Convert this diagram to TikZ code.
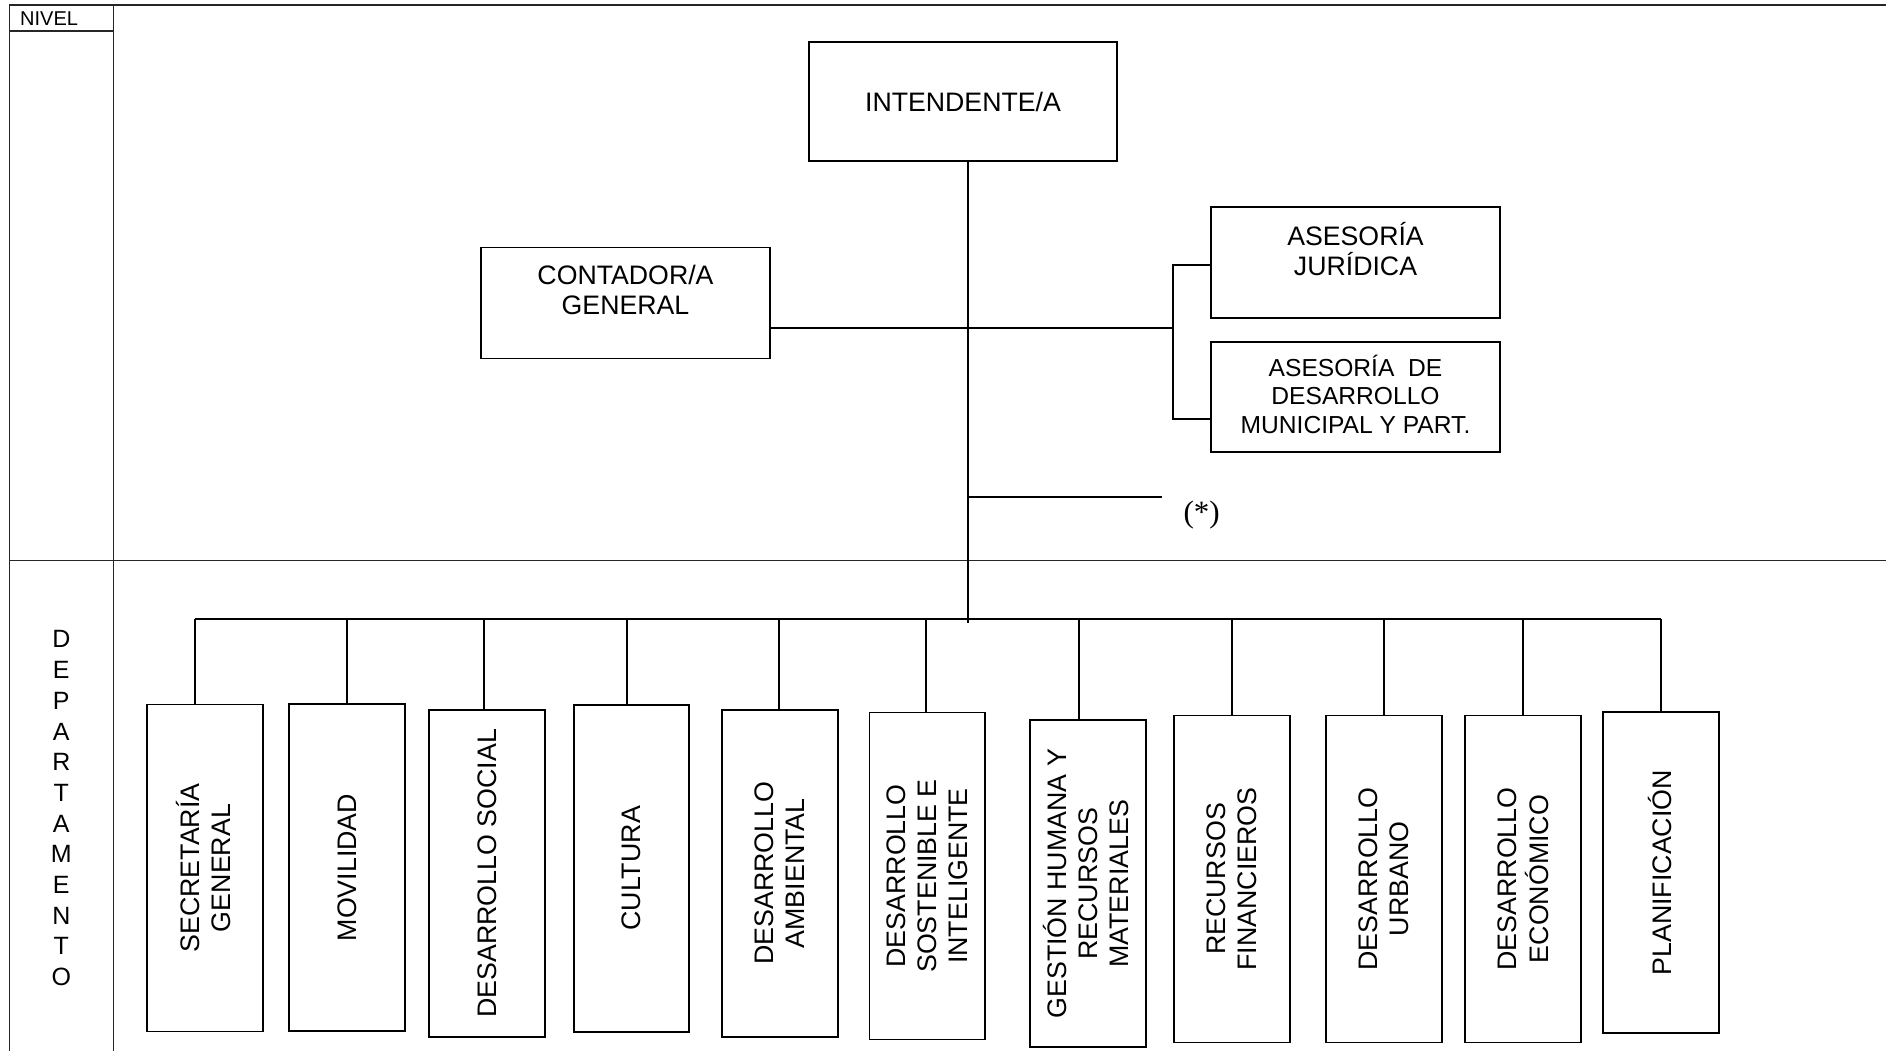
\documentclass[tikz,border=0pt]{standalone}
\usepackage{fontspec}
\setmainfont{Liberation Sans}
\newfontfamily\seriffont{Liberation Serif}
\usetikzlibrary{calc}
\newcommand{\vlab}[1]{\hspace*{6pt}\rotatebox{90}{\begin{tabular}{@{}c@{}}#1\end{tabular}}}
\begin{document}
\begin{tikzpicture}[x=1pt,y=-1pt,
  frameline/.style={line width=1.5pt, black!85},
  conn/.style={line width=1.9pt, black},
  box/.style={draw=black, line width=1.9pt, inner sep=0pt, text=black},
  topbox/.style={box, minimum width=289pt, minimum height=111pt},
  boxtext/.style={inner sep=0pt, align=center, font=\fontsize{26.7}{30}\selectfont},
  dept/.style={box, minimum width=115.7pt, minimum height=327pt, font=\fontsize{26.8}{30.8}\selectfont},
]
\useasboundingbox (0,0) rectangle (1886,1051);
\fill[white] (0,0) rectangle (1886,1051);

% frame
\draw[frameline] (9.3,1051) -- (9.3,5) -- (1886,5);
\draw[frameline] (113.3,5) -- (113.3,1051);
\draw[frameline] (9.3,31) -- (113.3,31);
\draw[frameline] (9.3,560.7) -- (1886,560.7);
\node[anchor=base west, inner sep=0pt, font=\fontsize{20}{24}\selectfont] (nivel) at (20,26) {NIVEL};
\node[inner sep=0pt, align=center, font=\fontsize{25}{30.7}\selectfont] (depto) at (61.3,808.3)
  {D\\E\\P\\A\\R\\T\\A\\M\\E\\N\\T\\O};

% top level
\node[box, minimum width=308pt, minimum height=119pt, font=\fontsize{26.7}{30}\selectfont] (int) at (963,101.5) {INTENDENTE/A};
\node[topbox] (cont) at (625.5,303) {};
\node[boxtext] (conttext) at ($(cont.center)+(0,-12.6)$) {CONTADOR/A\\GENERAL};
\node[box, minimum width=289pt, minimum height=110.5pt] (aj) at (1355.5,262.3) {};
\node[boxtext] (ajtext) at ($(aj.center)+(0,-13)$) {ASESORÍA\\JURÍDICA};
\node[box, minimum width=289pt, minimum height=110.3pt] (adm) at (1355.5,396.9) {};
\node[inner sep=0pt, align=center, font=\fontsize{24.6}{28.9}\selectfont] (admtext) at ($(adm.center)+(0,-2.5)$)
  {ASESORÍA~~DE\\DESARROLLO\\MUNICIPAL Y PART.};
\node[inner sep=0pt, font=\seriffont\fontsize{31}{36}\selectfont] (star) at (1201.7,515) {(*)};

% connectors top
\coordinate (trunk) at (968,622.7);
\coordinate (mid) at (968,327.7);
\coordinate (brk) at (1172.8,327.7);
\coordinate (brkT) at (1172.8,265);
\coordinate (brkB) at (1172.8,418.6);
\coordinate (starA) at (968,497);
\coordinate (starB) at (1162,497);
\draw[conn] (int.south -| trunk) -- (trunk);
\draw[conn] (cont.east |- mid) -- (brk);
\draw[conn] (aj.west |- brkT) -- (brkT) -- (brkB) -- (adm.west |- brkB);
\draw[conn] (starA) -- (starB);

% departments
\node[dept] (d1) at (205,868) {\vlab{SECRETARÍA\\GENERAL}};
\node[dept] (d2) at (347,867.5) {\vlab{MOVILIDAD}};
\node[dept] (d3) at (487.15,873.2) {\vlab{DESARROLLO SOCIAL}};
\node[dept] (d4) at (631.5,868.35) {\vlab{CULTURA}};
\node[dept] (d5) at (780,873.35) {\vlab{DESARROLLO\\AMBIENTAL}};
\node[dept] (d6) at (927.35,876) {\vlab{DESARROLLO\\SOSTENIBLE E\\INTELIGENTE}};
\node[dept] (d7) at (1087.7,883.7) {\vlab{GESTIÓN HUMANA Y\\RECURSOS\\MATERIALES}};
\node[dept] (d8) at (1231.85,879) {\vlab{RECURSOS\\FINANCIEROS}};
\node[dept] (d9) at (1384.15,879) {\vlab{DESARROLLO\\URBANO}};
\node[dept] (d10) at (1523.15,879) {\vlab{DESARROLLO\\ECONÓMICO}};
\node[dept, minimum height=321pt] (d11) at (1661.15,872.8) {\vlab{PLANIFICACIÓN}};

% bus
\coordinate (c1) at (195.3,619.3);
\coordinate (c2) at (347,619.3);
\coordinate (c3) at (484.3,619.3);
\coordinate (c4) at (627.3,619.3);
\coordinate (c5) at (779,619.3);
\coordinate (c6) at (926.3,619.3);
\coordinate (c7) at (1079.3,619.3);
\coordinate (c8) at (1231.7,619.3);
\coordinate (c9) at (1384.3,619.3);
\coordinate (c10) at (1523,619.3);
\coordinate (c11) at (1661,619.3);
\draw[conn] (c1) -- (c11);
\foreach \i in {1,...,11} {
  \draw[conn] (c\i) -- (c\i |- d\i.north);
}
\end{tikzpicture}
\end{document}
